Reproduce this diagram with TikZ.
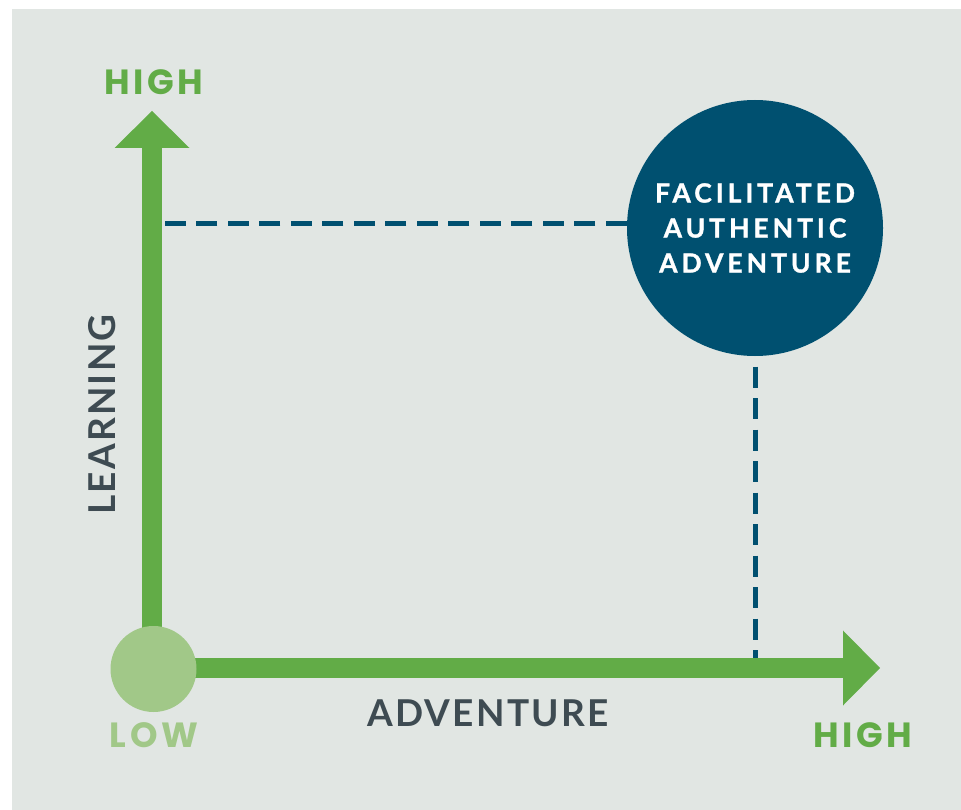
\documentclass[tikz,border=0pt]{standalone}
\usepackage{fontspec}
\setmainfont{Lato}
\newfontfamily\tickfont{Poppins}[LetterSpace=10]
\newfontfamily\circfont{Lato}[LetterSpace=15,FakeBold=1.2]
\newfontfamily\namefont{Lato}[LetterSpace=6]
\usetikzlibrary{arrows.meta}
\definecolor{bggray}{RGB}{225,230,227}
\definecolor{axisgreen}{RGB}{98,172,71}
\definecolor{lowgreen}{RGB}{161,200,136}
\definecolor{navy}{RGB}{0,80,112}
\definecolor{slate}{RGB}{62,75,82}

\begin{document}
\begin{tikzpicture}[x=1pt,y=1pt,yscale=-1,
  axis/.style={draw=axisgreen,line width=20pt,-{Triangle[width=75pt,length=37pt,line width=0pt]}},
  guide/.style={draw=navy,line width=5pt,dash pattern=on 21pt off 10.5pt},
  endlabel/.style={font=\tickfont\bfseries\fontsize{35}{35}\selectfont},
  axislabel/.style={text=slate,font=\namefont\bfseries\fontsize{37}{37}\selectfont}]
\useasboundingbox (0,0) rectangle (961,810);

%Background
\fill[bggray] (12,9) rectangle (961,810);

%corner points of the axes
\coordinate (o) at (152,668);
\coordinate (ytip) at (152,111);
\coordinate (xtip) at (880,668);

%Circle: result
\node[circle,fill=navy,minimum size=256pt,inner sep=0pt,text=white,align=center,
  font=\circfont\bfseries\fontsize{26.5}{35}\selectfont] (bigc) at (755,228) {FACILITATED\\AUTHENTIC\\ADVENTURE};

%Dashed guides
\draw[guide] (bigc.178) -- (o |- bigc.178);
\draw[guide,dash phase=21pt] (bigc.south) -- (bigc.south |- o);

%Axes
\draw[axis] (o) -- (ytip);
\draw[axis] (o) -- (xtip);

%Circle: origin
\node[circle,fill=lowgreen,minimum size=86pt,inner sep=0pt] (lowc) at (153.5,669) {};

% Text Node
\node[endlabel,text=axisgreen] (yhigh) at (154,82) {HIGH};
\node[endlabel,text=lowgreen] (low) at (154,735) {LOW};
\node[endlabel,text=axisgreen] (xhigh) at (863,735) {HIGH};
\node[axislabel] (xlab) at (488,713.5) {ADVENTURE};
\node[axislabel,rotate=90] (ylab) at (102.5,414.5) {LEARNING};
\end{tikzpicture}
\end{document}
